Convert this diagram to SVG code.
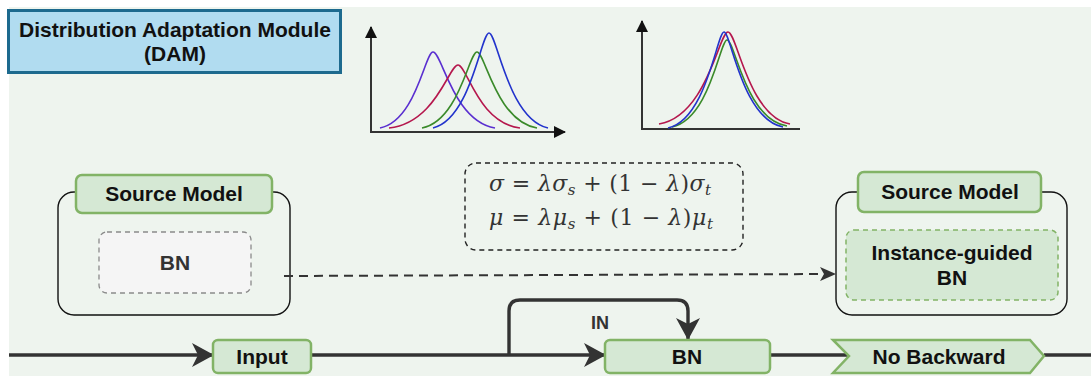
<svg xmlns="http://www.w3.org/2000/svg" width="1091" height="376" viewBox="0 0 1091 376">
<defs>
<style>
.lbl{font-family:"Liberation Sans",Arial,sans-serif;font-weight:bold;font-size:21px;text-anchor:middle;fill:#111}
.g{fill:#d5e8d4;stroke:#82b366;stroke-width:2.5}
.outer{fill:none;stroke:#111;stroke-width:1.4}
.axis{stroke:#333;stroke-width:2;fill:none}
.curve{fill:none;stroke-width:1.6}
.math{font-family:"DejaVu Serif","Liberation Serif",serif;font-size:22px;fill:#333}
.it{font-style:italic}
</style>
<marker id="bigArrow" viewBox="0 0 22 24" refX="21" refY="12" markerWidth="22" markerHeight="24" markerUnits="userSpaceOnUse" orient="auto">
<path d="M0,0 L22,12 L0,24 L6,12 Z" fill="#333"/>
</marker>
<marker id="dashArrow" viewBox="0 0 16 14" refX="15" refY="7" markerWidth="16" markerHeight="14" markerUnits="userSpaceOnUse" orient="auto">
<path d="M0,0 L16,7 L0,14 L4,7 Z" fill="#333"/>
</marker>
<marker id="axArrow" viewBox="0 0 12 12" refX="11" refY="6" markerWidth="12" markerHeight="12" markerUnits="userSpaceOnUse" orient="auto">
<path d="M0,0 L12,6 L0,12 Z" fill="#111"/>
</marker>
</defs>
<rect x="0" y="0" width="1091" height="376" fill="#ffffff"/>
<rect x="9" y="7" width="1082" height="369" fill="#eef4ee"/>

<g id="dam">
<rect x="8.5" y="10.5" width="332" height="62" fill="#b1dcf0" stroke="#1d6a8e" stroke-width="3"/>
<text class="lbl" x="175" y="37">Distribution Adaptation Module</text>
<text class="lbl" x="175" y="61">(DAM)</text>
</g>

<g id="chart-left">
<path class="axis" d="M371,132 L371,27" marker-end="url(#axArrow)"/>
<path class="axis" d="M370,132 L565,132" marker-end="url(#axArrow)"/>
<path class="curve" stroke="#5a2fd0" d="M380,128 C416,121 425,52 433,52 C442,52 453,121 495,128"/>
<path class="curve" stroke="#b5174d" d="M389,128 C436,123 449,65 458,65 C467,65 478,123 520,128"/>
<path class="curve" stroke="#3a8a2a" d="M422,128 C459,121 469,52 477,52 C485,52 496,121 537,128"/>
<path class="curve" stroke="#2233cc" d="M433,128 C471,119 481,33 489,33 C497,33 508,119 548,128"/>
</g>

<g id="chart-right">
<path class="axis" d="M642,129 L642,21" marker-end="url(#axArrow)"/>
<path class="axis" d="M641,129 L800,129"/>
<path class="curve" stroke="#b5174d" d="M659,124 C707,116 719,32 728,32 C737,32 748,116 790,124"/>
<path class="curve" stroke="#3a8a2a" d="M672,127 C710,119 720,40 727,40 C735,40 745,119 787,126"/>
<path class="curve" stroke="#2233cc" d="M668,128 C707,119 717,32 724,32 C731,32 742,119 783,127"/>
</g>

<g id="formula">
<rect x="465" y="163" width="278" height="87" rx="11" fill="none" stroke="#222" stroke-width="1.4" stroke-dasharray="5 4"/>
<text class="math" x="489" y="191" textLength="222" lengthAdjust="spacing"><tspan class="it">σ</tspan> = <tspan class="it">λσ</tspan><tspan class="it" font-size="15" dy="4">s</tspan><tspan dy="-4"> + (1 − </tspan><tspan class="it">λ</tspan>)<tspan class="it">σ</tspan><tspan class="it" font-size="15" dy="4">t</tspan></text>
<text class="math" x="489" y="225" textLength="224" lengthAdjust="spacing"><tspan class="it">μ</tspan> = <tspan class="it">λμ</tspan><tspan class="it" font-size="15" dy="4">s</tspan><tspan dy="-4"> + (1 − </tspan><tspan class="it">λ</tspan>)<tspan class="it">μ</tspan><tspan class="it" font-size="15" dy="4">t</tspan></text>
</g>

<g id="source-left">
<rect class="outer" x="58" y="192" width="232" height="123" rx="16"/>
<rect class="g" x="76" y="175" width="196" height="38" rx="6"/>
<text class="lbl" x="174" y="201">Source Model</text>
<rect x="99" y="232" width="152" height="61" rx="8" fill="#f5f5f5" stroke="#8a8a8a" stroke-width="1.3" stroke-dasharray="5 4"/>
<text class="lbl" x="175" y="270" style="fill:#333">BN</text>
</g>

<g id="source-right">
<rect class="outer" x="836" y="192" width="231" height="123" rx="16"/>
<rect class="g" x="858" y="172" width="183" height="40" rx="6"/>
<text class="lbl" x="950" y="199">Source Model</text>
<rect x="846" y="230" width="212" height="70" rx="8" fill="#d5e8d4" stroke="#82b366" stroke-width="1.5" stroke-dasharray="5 4"/>
<text class="lbl" x="952" y="260">Instance-guided</text>
<text class="lbl" x="952" y="285">BN</text>
</g>

<g id="connectors" fill="none" stroke="#333">
<path d="M9,355 L213,355" stroke-width="3.4" marker-end="url(#bigArrow)"/>
<path d="M311,355 L605,355" stroke-width="3.4" marker-end="url(#bigArrow)"/>
<path d="M509,355 L509,311 Q509,300 520,300 L677,300 Q688,300 688,311 L688,339" stroke-width="3.4" marker-end="url(#bigArrow)"/>
<path d="M770,355 L849,355" stroke-width="3.4"/>
<path d="M1044,355 L1091,355" stroke-width="3.4"/>
<path d="M284,276 L835,274" stroke-width="2" stroke-dasharray="9 6" marker-end="url(#dashArrow)"/>
</g>

<g id="input">
<rect class="g" x="213" y="340" width="98" height="33" rx="5"/>
<text class="lbl" x="262" y="364">Input</text>
</g>

<g id="bn">
<rect class="g" x="605" y="340" width="165" height="33" rx="5"/>
<text class="lbl" x="687" y="364">BN</text>
</g>

<g id="no-backward">
<path class="g" d="M833,340 L1030,340 L1044,356 L1030,373 L833,373 L849,356 Z"/>
<text class="lbl" x="939" y="364">No Backward</text>
</g>

<text class="lbl" x="600" y="329" style="fill:#333;font-size:18px">IN</text>
</svg>
